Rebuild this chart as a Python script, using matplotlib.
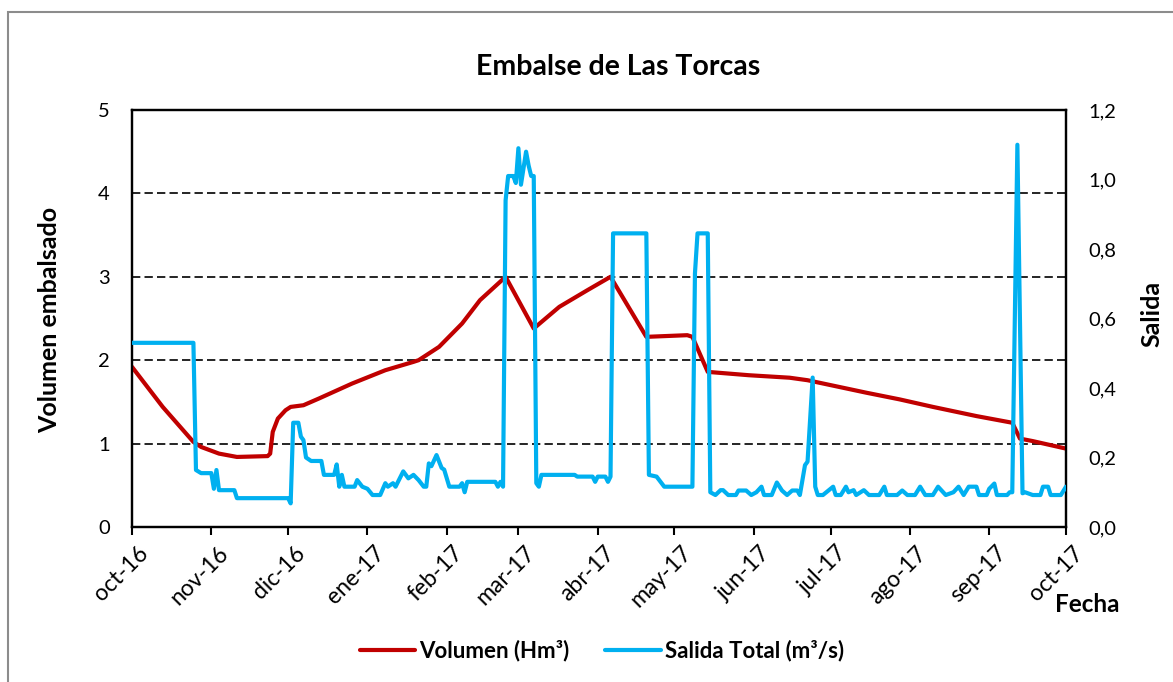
import matplotlib
matplotlib.use("Agg")
import matplotlib.pyplot as plt
import matplotlib.transforms as mtransforms
from matplotlib.patches import Rectangle
from matplotlib.ticker import FuncFormatter
import pandas as pd

# Volumen embalsado (Hm3)
vol_fechas = [
    "2016-10-01", "2016-10-13", "2016-10-25", "2016-10-28", "2016-11-04", "2016-11-11",
    "2016-11-23", "2016-11-24", "2016-11-25", "2016-11-27", "2016-11-30", "2016-12-02",
    "2016-12-07", "2016-12-13", "2016-12-26", "2017-01-08", "2017-01-19", "2017-01-21",
    "2017-01-29", "2017-02-07", "2017-02-14", "2017-02-24", "2017-03-07", "2017-03-17",
    "2017-03-28", "2017-04-06", "2017-04-20", "2017-05-06", "2017-05-08", "2017-05-14",
    "2017-05-26", "2017-05-30", "2017-06-15", "2017-06-22", "2017-07-15", "2017-07-28",
    "2017-08-10", "2017-08-27", "2017-09-10", "2017-09-13", "2017-09-18", "2017-10-01",
]
volumen = [
    1.92, 1.44, 1.02, 0.96, 0.88, 0.84,
    0.85, 0.88, 1.14, 1.30, 1.40, 1.44,
    1.46, 1.54, 1.72, 1.88, 1.98, 2.00,
    2.16, 2.44, 2.72, 3.00, 2.38, 2.64,
    2.84, 3.00, 2.28, 2.30, 2.28, 1.86,
    1.83, 1.82, 1.79, 1.76, 1.61, 1.53,
    1.44, 1.33, 1.25, 1.06, 1.03, 0.94,
]

# Salida total (m3/s)
sal_fechas = [
    "2016-10-01", "2016-10-25", "2016-10-26", "2016-10-28", "2016-11-01", "2016-11-02",
    "2016-11-03", "2016-11-04", "2016-11-10", "2016-11-11", "2016-12-01", "2016-12-02",
    "2016-12-03", "2016-12-05", "2016-12-06", "2016-12-07", "2016-12-08", "2016-12-10",
    "2016-12-14", "2016-12-15", "2016-12-19", "2016-12-20", "2016-12-21", "2016-12-22",
    "2016-12-23", "2016-12-27", "2016-12-28", "2016-12-30", "2017-01-01", "2017-01-03",
    "2017-01-06", "2017-01-08", "2017-01-09", "2017-01-11", "2017-01-12", "2017-01-15",
    "2017-01-17", "2017-01-19", "2017-01-21", "2017-01-23", "2017-01-24", "2017-01-25",
    "2017-01-26", "2017-01-28", "2017-01-30", "2017-01-31", "2017-02-02", "2017-02-06",
    "2017-02-07", "2017-02-08", "2017-02-09", "2017-02-20", "2017-02-21", "2017-02-22",
    "2017-02-23", "2017-02-24", "2017-02-25", "2017-02-27", "2017-02-28", "2017-03-01",
    "2017-03-02", "2017-03-04", "2017-03-05", "2017-03-06", "2017-03-07", "2017-03-08",
    "2017-03-09", "2017-03-10", "2017-03-23", "2017-03-24", "2017-03-30", "2017-03-31",
    "2017-04-01", "2017-04-04", "2017-04-05", "2017-04-06", "2017-04-07", "2017-04-20",
    "2017-04-21", "2017-04-24", "2017-04-27", "2017-05-08", "2017-05-09", "2017-05-10",
    "2017-05-14", "2017-05-15", "2017-05-17", "2017-05-19", "2017-05-20", "2017-05-22",
    "2017-05-25", "2017-05-26", "2017-05-29", "2017-05-31", "2017-06-02", "2017-06-04",
    "2017-06-05", "2017-06-08", "2017-06-10", "2017-06-12", "2017-06-14", "2017-06-16",
    "2017-06-18", "2017-06-19", "2017-06-21", "2017-06-22", "2017-06-24", "2017-06-25",
    "2017-06-26", "2017-06-28", "2017-07-02", "2017-07-03", "2017-07-05", "2017-07-07",
    "2017-07-08", "2017-07-10", "2017-07-11", "2017-07-14", "2017-07-16", "2017-07-20",
    "2017-07-22", "2017-07-23", "2017-07-27", "2017-07-29", "2017-07-31", "2017-08-03",
    "2017-08-05", "2017-08-07", "2017-08-10", "2017-08-12", "2017-08-15", "2017-08-18",
    "2017-08-20", "2017-08-22", "2017-08-24", "2017-08-27", "2017-08-28", "2017-08-31",
    "2017-09-01", "2017-09-03", "2017-09-04", "2017-09-08", "2017-09-09", "2017-09-10",
    "2017-09-12", "2017-09-14", "2017-09-15", "2017-09-18", "2017-09-21", "2017-09-22",
    "2017-09-24", "2017-09-25", "2017-09-29", "2017-10-01",
]
salida = [
    0.53, 0.53, 0.164, 0.155, 0.155, 0.11,
    0.164, 0.106, 0.106, 0.083, 0.083, 0.068,
    0.30, 0.30, 0.26, 0.25, 0.20, 0.19,
    0.19, 0.15, 0.15, 0.18, 0.116, 0.15,
    0.116, 0.116, 0.135, 0.116, 0.11, 0.092,
    0.092, 0.126, 0.116, 0.126, 0.116, 0.16,
    0.14, 0.15, 0.135, 0.116, 0.116, 0.183,
    0.175, 0.207, 0.17, 0.165, 0.116, 0.116,
    0.126, 0.10, 0.13, 0.13, 0.116, 0.13,
    0.116, 0.94, 1.01, 1.01, 0.99, 1.09,
    0.985, 1.08, 1.04, 1.01, 1.01, 0.126,
    0.116, 0.15, 0.15, 0.145, 0.145, 0.13,
    0.145, 0.145, 0.13, 0.145, 0.845, 0.845,
    0.15, 0.145, 0.116, 0.116, 0.73, 0.845,
    0.845, 0.10, 0.092, 0.106, 0.106, 0.092,
    0.092, 0.105, 0.105, 0.092, 0.10, 0.116,
    0.092, 0.092, 0.128, 0.105, 0.092, 0.105,
    0.105, 0.092, 0.178, 0.188, 0.43, 0.116,
    0.092, 0.092, 0.116, 0.092, 0.092, 0.116,
    0.10, 0.106, 0.092, 0.106, 0.092, 0.092,
    0.116, 0.092, 0.092, 0.105, 0.092, 0.092,
    0.116, 0.092, 0.092, 0.116, 0.092, 0.10,
    0.116, 0.092, 0.116, 0.116, 0.092, 0.092,
    0.11, 0.125, 0.092, 0.092, 0.10, 0.10,
    1.10, 0.097, 0.10, 0.092, 0.092, 0.116,
    0.116, 0.092, 0.092, 0.116,
]

meses = ["oct-16", "nov-16", "dic-16", "ene-17", "feb-17", "mar-17", "abr-17",
         "may-17", "jun-17", "jul-17", "ago-17", "sep-17", "oct-17"]

ROJO = "#C00000"
AZUL = "#00B0F0"
FUENTE = "Lato"

plt.rcParams["font.family"] = [FUENTE, "DejaVu Sans"]

fig = plt.figure(figsize=(11.73, 6.82), dpi=100)
fig.patches.append(Rectangle((8 / 1173, -0.05), 1.2, 1 - 12 / 682 + 0.05, transform=fig.transFigure,
                             fill=False, edgecolor="#8c8c8c", linewidth=1.5))

ax = fig.add_axes([132 / 1173, 1 - 527 / 682, 934 / 1173, 417 / 682])
ax2 = ax.twinx()

fv = pd.to_datetime(vol_fechas)
fs = pd.to_datetime(sal_fechas)

for y in [1, 2, 3, 4]:
    ax.axhline(y, color="black", linewidth=1.2, linestyle=(0, (5, 2.5)), zorder=1)

ax.plot(fv, volumen, color=ROJO, linewidth=3, solid_capstyle="round", solid_joinstyle="round", zorder=3)
ax2.plot(fs, salida, color=AZUL, linewidth=3, solid_capstyle="round", solid_joinstyle="round", zorder=3)

inicio = pd.Timestamp("2016-10-01")
fin = pd.Timestamp("2017-10-01")
ax.set_xlim(inicio, fin)
ax.set_ylim(0, 5)
ax2.set_ylim(0, 1.2)

ticks_x = pd.date_range(inicio, fin, freq="MS")
ax.set_xticks(ticks_x)
ax.set_xticklabels(meses, rotation=45, ha="right", va="top", rotation_mode="anchor", fontsize=16.5)
ax.tick_params(axis="x", direction="out", length=6, width=1.5, pad=5)
desplaza = mtransforms.ScaledTranslation(6 / 100, 0, fig.dpi_scale_trans)
for lab in ax.get_xticklabels():
    lab.set_transform(lab.get_transform() + desplaza)

ax.set_yticks(range(6))
ax.tick_params(axis="y", length=0, pad=16, labelsize=14.5)
ax2.set_yticks([0, 0.2, 0.4, 0.6, 0.8, 1.0, 1.2])
ax2.yaxis.set_major_formatter(FuncFormatter(lambda v, p: f"{v:.1f}".replace(".", ",")))
ax2.tick_params(axis="y", length=0, pad=16, labelsize=14.5)

for a in (ax, ax2):
    for s in a.spines.values():
        s.set_linewidth(1.6)
        s.set_color("black")

fig.text(618 / 1173, 1 - 67 / 682, "Embalse de Las Torcas", ha="center", va="center",
         fontsize=20.5, fontweight="bold")
fig.text(50 / 1173, 1 - 320 / 682, "Volumen embalsado", ha="center", va="center",
         rotation=90, fontsize=18, fontweight="bold")
fig.text(1152 / 1173, 1 - 314 / 682, "Salida", ha="center", va="center",
         rotation=90, fontsize=18, fontweight="bold")
fig.text(1087 / 1173, 1 - 605 / 682, "Fecha", ha="center", va="center",
         fontsize=17.5, fontweight="bold")

h1, = ax.plot([], [], color=ROJO, linewidth=3, solid_capstyle="round", label="Volumen (Hm³)")
h2, = ax.plot([], [], color=AZUL, linewidth=3, solid_capstyle="round", label="Salida Total (m³/s)")
fig.legend(handles=[h1, h2], loc="center", bbox_to_anchor=(602 / 1173, 1 - 651 / 682), ncol=2,
           frameon=False, prop={"family": FUENTE, "weight": "bold", "size": 16},
           handlelength=2.5, handletextpad=0.2, columnspacing=1.6)

fig.savefig("out.png", dpi=100)
